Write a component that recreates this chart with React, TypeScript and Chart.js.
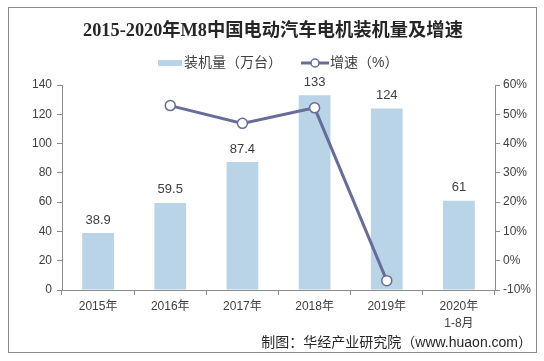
import React, { useEffect, useRef } from "react";
import { Chart, registerables } from "chart.js";

Chart.register(...registerables);

const categories: (string | string[])[] = ["2015年", "2016年", "2017年", "2018年", "2019年", ["2020年", "1-8月"]];
const installed: number[] = [38.9, 59.5, 87.4, 133, 124, 61];
const growth: (number | null)[] = [null, 52.96, 46.9, 52.2, -6.8, null];
const installedLabels: string[] = ["38.9", "59.5", "87.4", "133", "124", "61"];

const TITLE = "2015-2020年M8中国电动汽车电机装机量及增速";
const LEGEND_BAR = "装机量（万台）";
const LEGEND_LINE = "增速（%）";
const SOURCE = "制图：华经产业研究院（www.huaon.com）";

const BAR_COLOR = "#b9d4e6";
const LINE_COLOR = "#676c99";
const AXIS_COLOR = "#8c8c8c";
const TEXT_COLOR = "#404040";
const SANS = "'Liberation Sans', 'Noto Sans CJK SC', sans-serif";

const decorPlugin = {
  id: "decor",
  beforeDraw(chart: any) {
    const ctx = chart.ctx;
    ctx.save();
    ctx.fillStyle = "#ffffff";
    ctx.fillRect(0, 0, chart.width, chart.height);
    ctx.strokeStyle = "#8a8a8a";
    ctx.lineWidth = 1;
    ctx.strokeRect(8.5, 7.5, 528, 345);
    ctx.restore();
  },
  afterDraw(chart: any) {
    const ctx = chart.ctx;
    ctx.save();
    // title
    ctx.fillStyle = "#262626";
    ctx.font = "bold 18.3px 'Liberation Serif', 'Noto Sans CJK SC', serif";
    ctx.textAlign = "center";
    ctx.textBaseline = "middle";
    ctx.fillText(TITLE, 273, 31);
    // legend
    ctx.font = "14px " + SANS;
    ctx.textAlign = "left";
    ctx.fillStyle = BAR_COLOR;
    ctx.fillRect(158, 60, 24, 6);
    ctx.fillStyle = TEXT_COLOR;
    ctx.fillText(LEGEND_BAR, 184, 63);
    ctx.strokeStyle = LINE_COLOR;
    ctx.lineWidth = 3;
    ctx.beginPath();
    ctx.moveTo(301, 63);
    ctx.lineTo(329, 63);
    ctx.stroke();
    ctx.fillStyle = "#ffffff";
    ctx.lineWidth = 1.5;
    ctx.beginPath();
    ctx.arc(315, 63, 4, 0, Math.PI * 2);
    ctx.fill();
    ctx.stroke();
    ctx.fillStyle = TEXT_COLOR;
    ctx.fillText(LEGEND_LINE, 330, 63);
    // source
    ctx.font = "14px " + SANS;
    ctx.textAlign = "right";
    ctx.fillStyle = "#262626";
    ctx.fillText(SOURCE, 532, 343);
    ctx.restore();
  },
  afterDatasetsDraw(chart: any) {
    const ctx = chart.ctx;
    const meta = chart.getDatasetMeta(0);
    ctx.save();
    ctx.font = "13px " + SANS;
    ctx.fillStyle = TEXT_COLOR;
    ctx.textAlign = "center";
    ctx.textBaseline = "middle";
    meta.data.forEach((bar: any, i: number) => {
      ctx.fillText(installedLabels[i], bar.x, bar.y - 13);
    });
    ctx.restore();
  },
};

export default function App() {
  const ref = useRef<HTMLCanvasElement | null>(null);
  useEffect(() => {
    document.body.style.margin = "0";
    const chart = new Chart(ref.current as HTMLCanvasElement, {
      type: "bar",
      data: {
        labels: categories as any,
        datasets: [
          {
            type: "bar",
            label: LEGEND_BAR,
            data: installed,
            backgroundColor: BAR_COLOR,
            yAxisID: "y",
            categoryPercentage: 1,
            barPercentage: 0.44,
            order: 1,
          },
          {
            type: "line",
            label: LEGEND_LINE,
            data: growth as any,
            borderColor: LINE_COLOR,
            borderWidth: 3,
            pointRadius: 5,
            pointBackgroundColor: "#ffffff",
            pointBorderColor: LINE_COLOR,
            pointBorderWidth: 1.5,
            yAxisID: "y1",
            order: 0,
          } as any,
        ],
      },
      options: {
        responsive: false,
        animation: false,
        layout: { padding: { top: 85, left: 0, right: 0, bottom: 0 } },
        plugins: { legend: { display: false }, title: { display: false }, tooltip: { enabled: false } },
        scales: {
          x: {
            grid: { drawOnChartArea: false, color: AXIS_COLOR, tickLength: 5, offset: true },
            border: { color: AXIS_COLOR },
            ticks: { color: TEXT_COLOR, font: { size: 12, family: SANS, lineHeight: 1.45 }, padding: 3, maxRotation: 0 },
            afterFit: (s: any) => { s.height = 71; },
          },
          y: {
            position: "left",
            min: 0,
            max: 140,
            ticks: { stepSize: 20, color: TEXT_COLOR, font: { size: 12, family: SANS }, padding: 5 },
            grid: { drawOnChartArea: false, color: AXIS_COLOR, tickLength: 5 },
            border: { color: AXIS_COLOR },
            afterFit: (s: any) => { s.width = 62; },
          },
          y1: {
            position: "right",
            min: -10,
            max: 60,
            ticks: { stepSize: 10, color: TEXT_COLOR, font: { size: 12, family: SANS }, padding: 3, callback: (v: any) => v + "%" },
            grid: { drawOnChartArea: false, color: AXIS_COLOR, tickLength: 5 },
            border: { color: AXIS_COLOR },
            afterFit: (s: any) => { s.width = 49; },
          },
        },
      } as any,
      plugins: [decorPlugin],
    });
    return () => chart.destroy();
  }, []);
  return (
    <div style={{ position: "absolute", left: 0, top: 0, width: 544, height: 361 }}>
      <canvas ref={ref} width={544} height={361} />
    </div>
  );
}
